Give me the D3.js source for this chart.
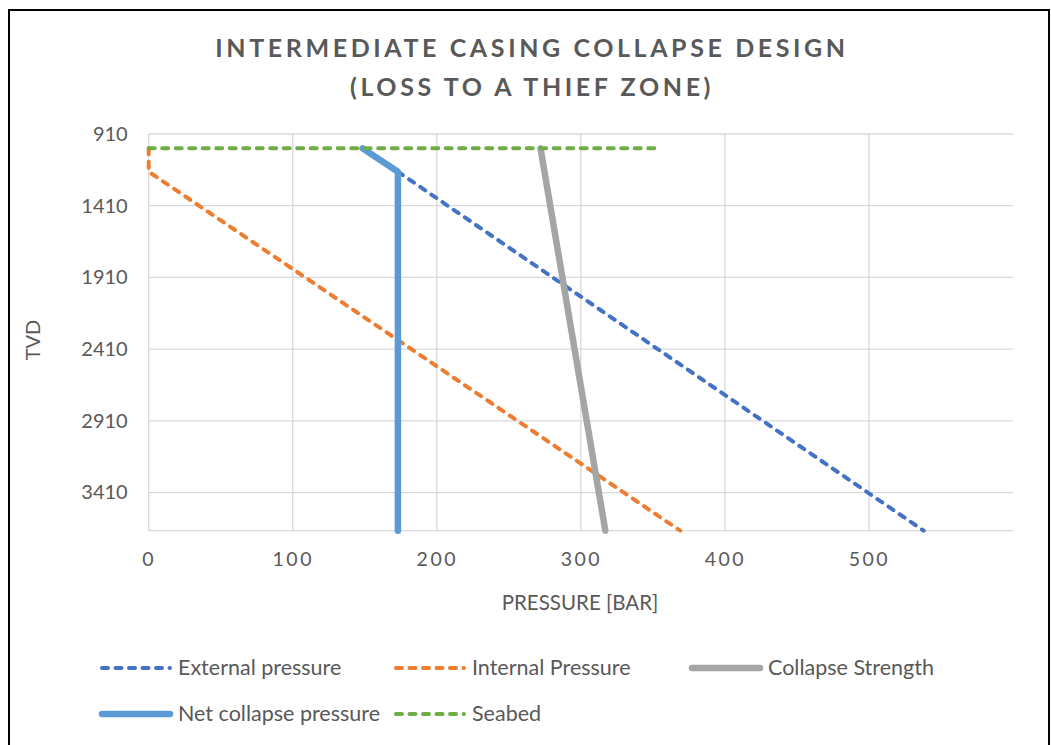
<!DOCTYPE html>
<html><head><meta charset="utf-8">
<script src="https://cdn.jsdelivr.net/npm/d3@7"></script>
<style>body{margin:0;background:#fff}svg{display:block}</style>
</head><body>
<script>
// Data (pressure in bar, TVD in m)
const seriesNames = ["External pressure","Internal Pressure","Collapse Strength","Net collapse pressure","Seabed"];
const externalX = [173, 538];
const externalY = [1173, 3676];
const internalX = [0, 0, 369];
const internalY = [1010, 1173, 3676];
const collapseX = [272, 317];
const collapseY = [1010, 3676];
const netX = [148.5, 173, 173];
const netY = [1010, 1173, 3676];
const seabedX = [0, 355];
const seabedY = [1010, 1010];
const xTicks = [0, 100, 200, 300, 400, 500];
const yTicks = [910, 1410, 1910, 2410, 2910, 3410];

const W = 1051, H = 745;
const svg = d3.select("body").append("svg").attr("width", W).attr("height", H);
svg.append("rect").attr("x",9).attr("y",10).attr("width",1040).attr("height",760)
  .attr("fill","#fff").attr("stroke","#000").attr("stroke-width",2);

const L = 148.7, R = 1013, T = 134, B = 530.7;
const x = d3.scaleLinear().domain([0, 600]).range([L, R]);
const y = d3.scaleLinear().domain([910, 3676]).range([T, B]);
const font = "Lato, 'Open Sans', sans-serif";
const grey = "#595959";

// gridlines
const g = svg.append("g");
g.selectAll(".hg").data(yTicks.concat([3676])).enter().append("line")
  .attr("x1", L).attr("x2", R).attr("y1", d => y(d)).attr("y2", d => y(d))
  .attr("stroke", "#d9d9d9").attr("stroke-width", 1.3);
g.selectAll(".vg").data(xTicks).enter().append("line")
  .attr("x1", d => x(d)).attr("x2", d => x(d)).attr("y1", T).attr("y2", B)
  .attr("stroke", "#d9d9d9").attr("stroke-width", 1.3);

// axes labels via d3 axes
const xAxis = svg.append("g").attr("transform", `translate(0,${B})`)
  .call(d3.axisBottom(x).tickValues(xTicks).tickSize(0).tickPadding(21));
xAxis.select(".domain").remove();
xAxis.selectAll("text").attr("font-family", font).attr("font-size", 19.5)
  .attr("fill", grey).attr("letter-spacing", "2.5px");
const yAxis = svg.append("g").attr("transform", `translate(${L},0)`)
  .call(d3.axisLeft(y).tickValues(yTicks).tickSize(0).tickPadding(21).tickFormat(d3.format("d")));
yAxis.select(".domain").remove();
yAxis.selectAll("text").attr("font-family", font).attr("font-size", 20).attr("fill", grey);

// series
const line = d3.line().x(d => x(d[0])).y(d => y(d[1]));
const zip = (a, b) => a.map((v, i) => [v, b[i]]);
const series = [
  {xs: externalX, ys: externalY, color: "#4472C4", w: 4, dash: "6,7.5"},
  {xs: internalX, ys: internalY, color: "#ED7D31", w: 4, dash: "6,7.5"},
  {xs: collapseX, ys: collapseY, color: "#A5A5A5", w: 6.5, dash: null},
  {xs: netX, ys: netY, color: "#5B9BD5", w: 6.5, dash: null},
  {xs: seabedX, ys: seabedY, color: "#70AD47", w: 4, dash: "6,7.5"}
];
series.forEach(s => {
  svg.append("path").attr("d", line(zip(s.xs, s.ys))).attr("fill", "none")
    .attr("stroke", s.color).attr("stroke-width", s.w)
    .attr("stroke-linecap", "round").attr("stroke-linejoin", "round")
    .attr("stroke-dasharray", s.dash);
});

// titles
const title = svg.append("text").attr("x", 532).attr("text-anchor", "middle")
  .attr("font-family", font).attr("font-weight", "bold").attr("font-size", 25)
  .attr("letter-spacing", "3.6px").attr("fill", grey);
title.append("tspan").attr("x", 532).attr("y", 57).text("INTERMEDIATE CASING COLLAPSE DESIGN");
title.append("tspan").attr("x", 532).attr("y", 96).text("(LOSS TO A THIEF ZONE)");

svg.append("text").attr("x", 580).attr("y", 610).attr("text-anchor", "middle")
  .attr("font-family", font).attr("font-size", 20.5).attr("fill", grey).text("PRESSURE [BAR]");
svg.append("text").attr("transform", "translate(40,340) rotate(-90)").attr("text-anchor", "middle")
  .attr("font-family", font).attr("font-size", 20).attr("fill", grey).text("TVD");

// legend
const legPos = [[100, 668], [394, 668], [690, 668], [100, 714], [394, 714]];
series.forEach((s, i) => {
  const [lx, ly] = legPos[i];
  svg.append("line").attr("x1", lx + 2).attr("x2", lx + 70).attr("y1", ly).attr("y2", ly)
    .attr("stroke", s.color).attr("stroke-width", s.w).attr("stroke-linecap", "round")
    .attr("stroke-dasharray", s.dash);
  svg.append("text").attr("x", lx + 78).attr("y", ly + 7).attr("font-family", font)
    .attr("font-size", 21.5).attr("fill", grey).text(seriesNames[i]);
});
</script>
</body></html>
